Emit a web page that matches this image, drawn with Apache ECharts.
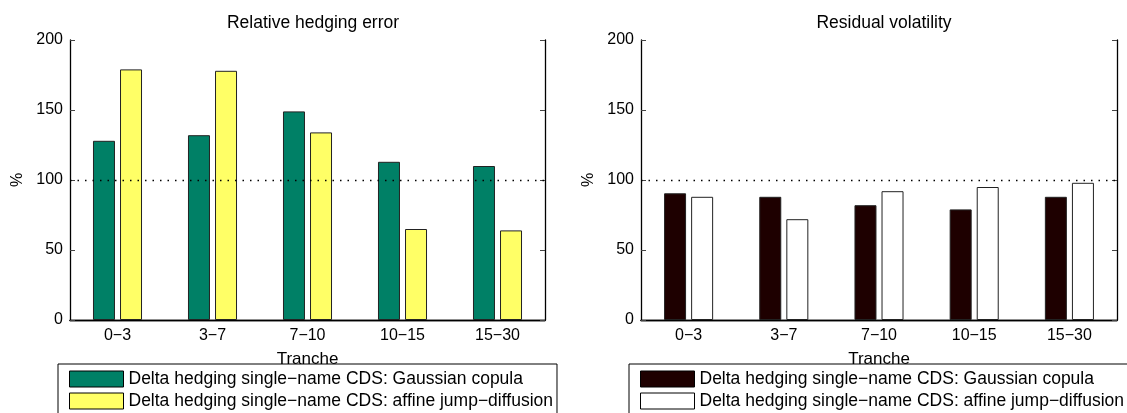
<!DOCTYPE html>
<html>
<head>
<meta charset="utf-8">
<script src="https://cdn.jsdelivr.net/npm/echarts@6/dist/echarts.min.js"></script>
<style>
  html, body { margin: 0; padding: 0; background: #fff; }
  #main { width: 1127px; height: 413px; }
</style>
</head>
<body>
<div id="main"></div>
<script>
var tranches = ["0\u22123", "3\u22127", "7\u221210", "10\u221215", "15\u221230"];
var seriesNames = [
  "Delta hedging single\u2212name CDS: Gaussian copula",
  "Delta hedging single\u2212name CDS: affine jump\u2212diffusion"
];
// Relative hedging error (%)
var errGauss = [128, 132, 149, 113, 110];
var errAffine = [179, 178, 134, 65, 64];
// Residual volatility (%)
var volGauss = [90.5, 88, 82, 79, 88];
var volAffine = [88, 72, 92, 95, 98];
var yTicks = { min: 0, max: 200, interval: 50 };

var font = "Liberation Sans";
var chartDom = document.getElementById("main");
var myChart = echarts.init(chartDom);

var grids = [
  { left: 70, top: 40, width: 475, height: 280 },
  { left: 641, top: 40, width: 476, height: 280 }
];

function xAxes(i) {
  return [
    {
      type: "category", gridIndex: i, data: tranches, position: "bottom",
      axisLine: { lineStyle: { color: "#000", width: 1.3 } },
      axisTick: { inside: true, alignWithLabel: true, length: 5, lineStyle: { color: "#444" } },
      axisLabel: { color: "#000", fontFamily: font, fontSize: 16, margin: 8 },
      name: "Tranche", nameLocation: "middle", nameGap: 31,
      nameTextStyle: { color: "#000", fontFamily: font, fontSize: 17 }
    },
    {
      type: "category", gridIndex: i, data: tranches, position: "top",
      axisLine: { lineStyle: { color: "#000", width: 1.3 } },
      axisTick: { inside: true, alignWithLabel: true, length: 5, lineStyle: { color: "#444" } },
      axisLabel: { show: false }
    }
  ];
}

function yAxes(i) {
  return [
    {
      type: "value", gridIndex: i, position: "left",
      min: yTicks.min, max: yTicks.max, interval: yTicks.interval,
      axisLine: { show: true, lineStyle: { color: "#000", width: 1.3 } },
      axisTick: { show: true, inside: true, length: 5, lineStyle: { color: "#444" } },
      axisLabel: { color: "#000", fontFamily: font, fontSize: 16, margin: 7 },
      splitLine: { show: false },
      name: "%", nameLocation: "middle", nameGap: 44,
      nameTextStyle: { color: "#000", fontFamily: font, fontSize: 16 }
    },
    {
      type: "value", gridIndex: i, position: "right",
      min: yTicks.min, max: yTicks.max, interval: yTicks.interval,
      axisLine: { show: true, lineStyle: { color: "#000", width: 1.3 } },
      axisTick: { show: true, inside: true, length: 5, lineStyle: { color: "#444" } },
      axisLabel: { show: false },
      splitLine: { show: false }
    }
  ];
}

function barSeries(name, data, color, idx, withLine) {
  var s = {
    name: name,
    type: "bar",
    xAxisIndex: idx * 2,
    yAxisIndex: idx * 2,
    data: data,
    barWidth: 22,
    barGap: "23%",
    itemStyle: { color: color, borderColor: "#222", borderWidth: 1 }
  };
  if (withLine) {
    s.markLine = {
      silent: true,
      symbol: "none",
      label: { show: false },
      lineStyle: { color: "#000", type: [1.5, 6], width: 1.3 },
      data: [{ yAxis: 100 }]
    };
  }
  return s;
}

function legendFor(left, colors) {
  return {
    left: left, top: 364, height: 90, orient: "vertical",
    icon: "rect", itemWidth: 54, itemHeight: 16, itemGap: 2,
    padding: [5, 4, 10, 11],
    borderColor: "#000", borderWidth: 1,
    selectedMode: false,
    textStyle: { color: "#000", fontFamily: font, fontSize: 17.5, lineHeight: 20 },
    data: [
      { name: seriesNames[0], itemStyle: { color: colors[0], borderColor: "#000", borderWidth: 1 } },
      { name: seriesNames[1], itemStyle: { color: colors[1], borderColor: "#000", borderWidth: 1 } }
    ]
  };
}

var option = {
  animation: false,
  backgroundColor: "#fff",
  title: [
    { text: "Relative hedging error", left: 308, top: 9, textAlign: "center",
      textStyle: { fontFamily: font, fontSize: 17.5, fontWeight: "normal", color: "#000" } },
    { text: "Residual volatility", left: 879, top: 9, textAlign: "center",
      textStyle: { fontFamily: font, fontSize: 17.5, fontWeight: "normal", color: "#000" } }
  ],
  grid: grids,
  xAxis: xAxes(0).concat(xAxes(1)),
  yAxis: yAxes(0).concat(yAxes(1)),
  legend: [
    legendFor(58, ["#008066", "#ffff66"]),
    legendFor(629, ["#1e0000", "#ffffff"])
  ],
  series: [
    barSeries(seriesNames[0], errGauss, "#008066", 0, true),
    barSeries(seriesNames[1], errAffine, "#ffff66", 0, false),
    barSeries(seriesNames[0], volGauss, "#1e0000", 1, true),
    barSeries(seriesNames[1], volAffine, "#ffffff", 1, false)
  ]
};

option && myChart.setOption(option);
</script>
</body>
</html>
